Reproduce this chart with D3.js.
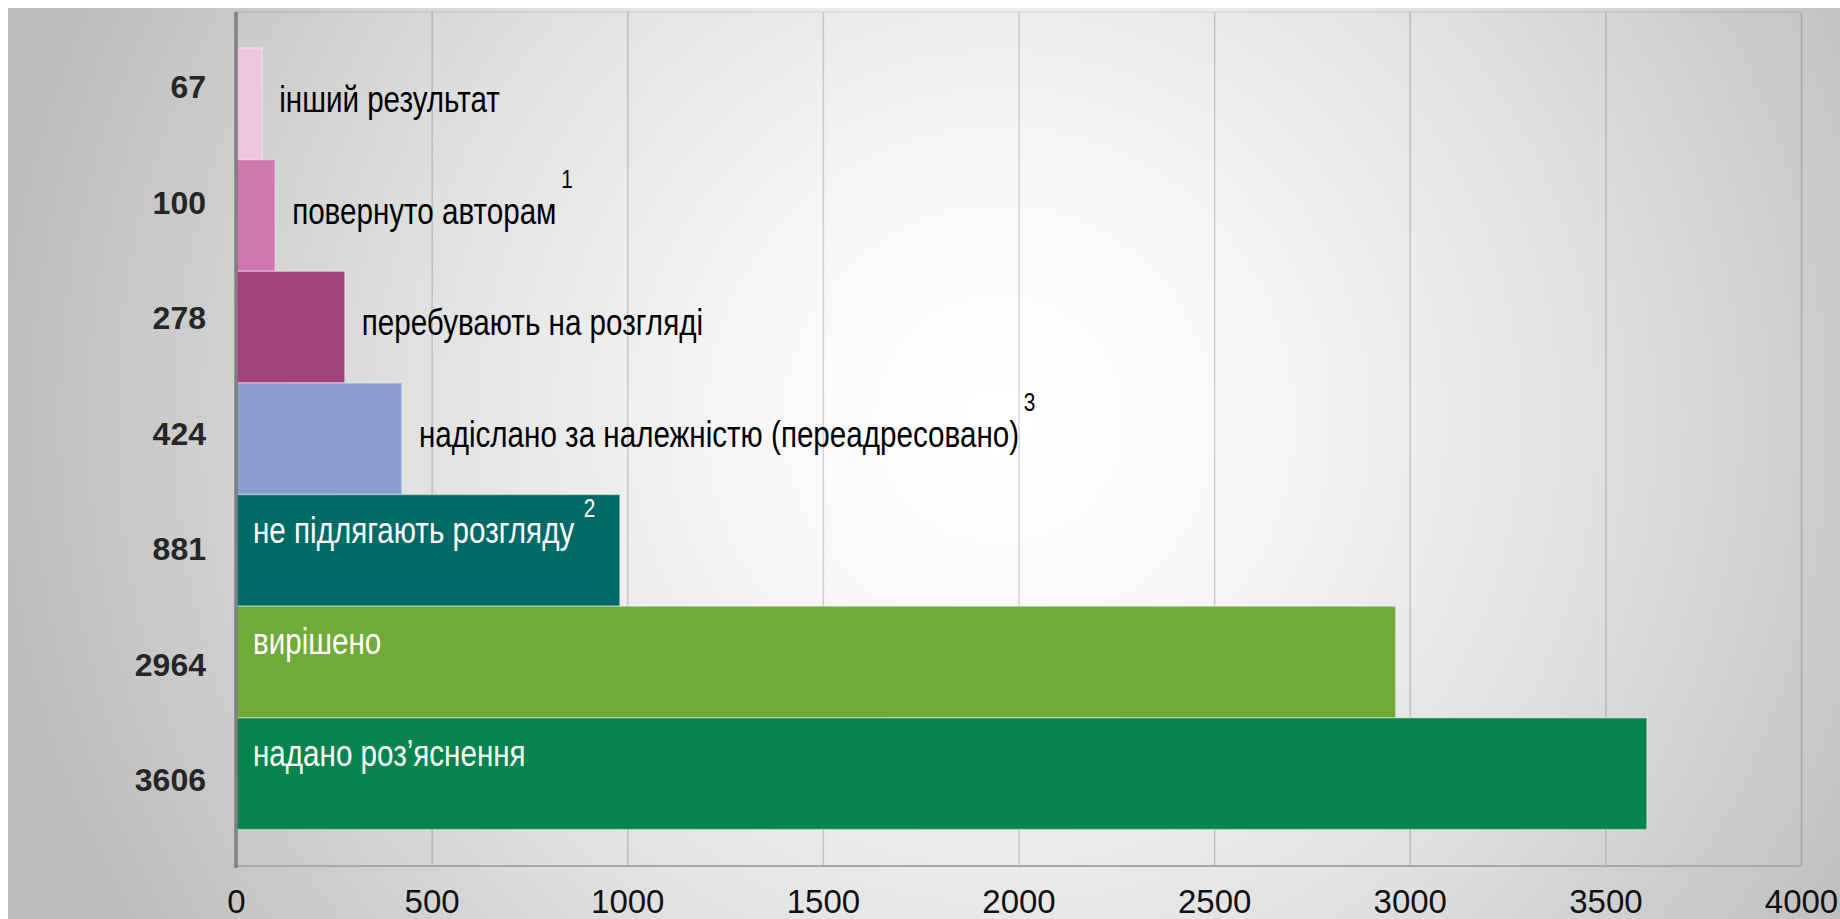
<!DOCTYPE html>
<html>
<head>
<meta charset="utf-8">
<script src="https://cdn.jsdelivr.net/npm/d3@7"></script>
<style>
  html, body { margin: 0; padding: 0; background: #fff; overflow: hidden; }
  svg { display: block; font-family: "Liberation Sans", Arial, sans-serif; }
</style>
</head>
<body>
<div id="chart"></div>
<script>
// category labels shown left of the bars (as printed on the slide)
const categories = ["67", "100", "278", "424", "881", "2964", "3606"];
// bar lengths as drawn
const values = [67, 100, 278, 424, 981, 2964, 3606];
const names = [
  "інший результат",
  "повернуто авторам",
  "перебувають на розгляді",
  "надіслано за належністю (переадресовано)",
  "не підлягають розгляду",
  "вирішено",
  "надано роз’яснення"
];
const notes = ["", "1", "", "3", "2", "", ""];
const colors = ["#ecc6df", "#d077b1", "#a3437d", "#8c9fd1", "#006a66", "#70ab3a", "#05854d"];
const xTicks = [0, 500, 1000, 1500, 2000, 2500, 3000, 3500, 4000];

const W = 1840, H = 919;
const plot = {left: 236, right: 1801, top: 12, bottom: 866};

const svg = d3.select('#chart').append('svg')
  .attr('width', W)
  .attr('height', H);

// slide background
const grad = svg.append('defs').append('radialGradient')
  .attr('id', 'bg')
  .attr('gradientUnits', 'userSpaceOnUse')
  .attr('cx', 1000).attr('cy', 420).attr('r', 1000);
grad.append('stop').attr('offset', 0).attr('stop-color', '#ffffff');
grad.append('stop').attr('offset', 0.22).attr('stop-color', '#f9f9f9');
grad.append('stop').attr('offset', 0.6).attr('stop-color', '#e0e0e0');
grad.append('stop').attr('offset', 1).attr('stop-color', '#bdbdbd');

svg.append('rect')
  .attr('x', 8).attr('y', 8)
  .attr('width', W - 8).attr('height', H - 8)
  .attr('fill', 'url(#bg)');

const x = d3.scaleLinear().domain([0, 4000]).range([plot.left, plot.right]);
const y = d3.scaleBand().domain(categories).range([48, 829.5]).padding(0);
const yLab = d3.scalePoint().domain(categories).range([98, 791]);

// grid + tick labels
const xAxis = svg.append('g')
  .attr('transform', `translate(0,${plot.bottom})`)
  .call(d3.axisBottom(x)
    .tickValues(xTicks)
    .tickSize(-(plot.bottom - plot.top))
    .tickPadding(24)
    .tickFormat(d3.format('d')));
xAxis.select('.domain').remove();
xAxis.selectAll('.tick line')
  .attr('stroke', '#000')
  .attr('stroke-opacity', 0.16)
  .attr('stroke-width', 1.5);
xAxis.selectAll('.tick text')
  .attr('font-size', 33)
  .attr('fill', '#111')
  .style('font-family', '"Liberation Sans", Arial, sans-serif');

// top border of plot area
svg.append('line')
  .attr('x1', plot.left).attr('x2', plot.right)
  .attr('y1', plot.top).attr('y2', plot.top)
  .attr('stroke', '#000').attr('stroke-opacity', 0.07).attr('stroke-width', 1.5);

// bars
svg.selectAll('.bar')
  .data(values)
  .enter()
  .append('rect')
  .attr('class', 'bar')
  .attr('x', x(0))
  .attr('y', (d, i) => y(categories[i]))
  .attr('width', d => x(d) - x(0))
  .attr('height', y.bandwidth())
  .attr('fill', (d, i) => colors[i])
  .attr('stroke', '#fff')
  .attr('stroke-opacity', 0.35)
  .attr('stroke-width', 1.5);

// axes lines
svg.append('line')
  .attr('x1', plot.left).attr('x2', plot.right)
  .attr('y1', plot.bottom).attr('y2', plot.bottom)
  .attr('stroke', '#a8a8a8').attr('stroke-width', 2);
svg.append('line')
  .attr('x1', plot.left).attr('x2', plot.left)
  .attr('y1', plot.top).attr('y2', plot.bottom + 2)
  .attr('stroke', '#808080').attr('stroke-width', 3.5);

// category numbers on the left
svg.selectAll('.cat')
  .data(categories)
  .enter()
  .append('text')
  .attr('class', 'cat')
  .attr('x', 206)
  .attr('y', d => yLab(d))
  .attr('text-anchor', 'end')
  .attr('font-size', 32)
  .attr('font-weight', 'bold')
  .attr('fill', '#262626')
  .text(d => d);

// names next to / inside the bars
const squeeze = 0.8;
const nameG = svg.selectAll('.name')
  .data(names)
  .enter()
  .append('g')
  .attr('class', 'name');

nameG.append('text')
  .attr('font-size', 37)
  .text(d => d)
  .each(function(d, i) {
    const t = d3.select(this);
    const w = this.getComputedTextLength() * squeeze;
    const barW = x(values[i]) - x(0);
    const inside = w + 40 < barW;
    const tx = inside ? x(0) + 17 : x(values[i]) + 17;
    const ty = y(categories[i]) + (inside ? 48 : 64);
    t.attr('fill', inside ? '#fff' : '#000');
    d3.select(this.parentNode)
      .attr('transform', `translate(${tx},${ty}) scale(${squeeze},1)`);
    if (notes[i]) {
      t.append('tspan')
        .attr('dx', inside ? 12 : 6)
        .attr('dy', inside ? -26 : -36)
        .attr('font-size', 26)
        .text(notes[i]);
    }
  });
</script>
</body>
</html>
